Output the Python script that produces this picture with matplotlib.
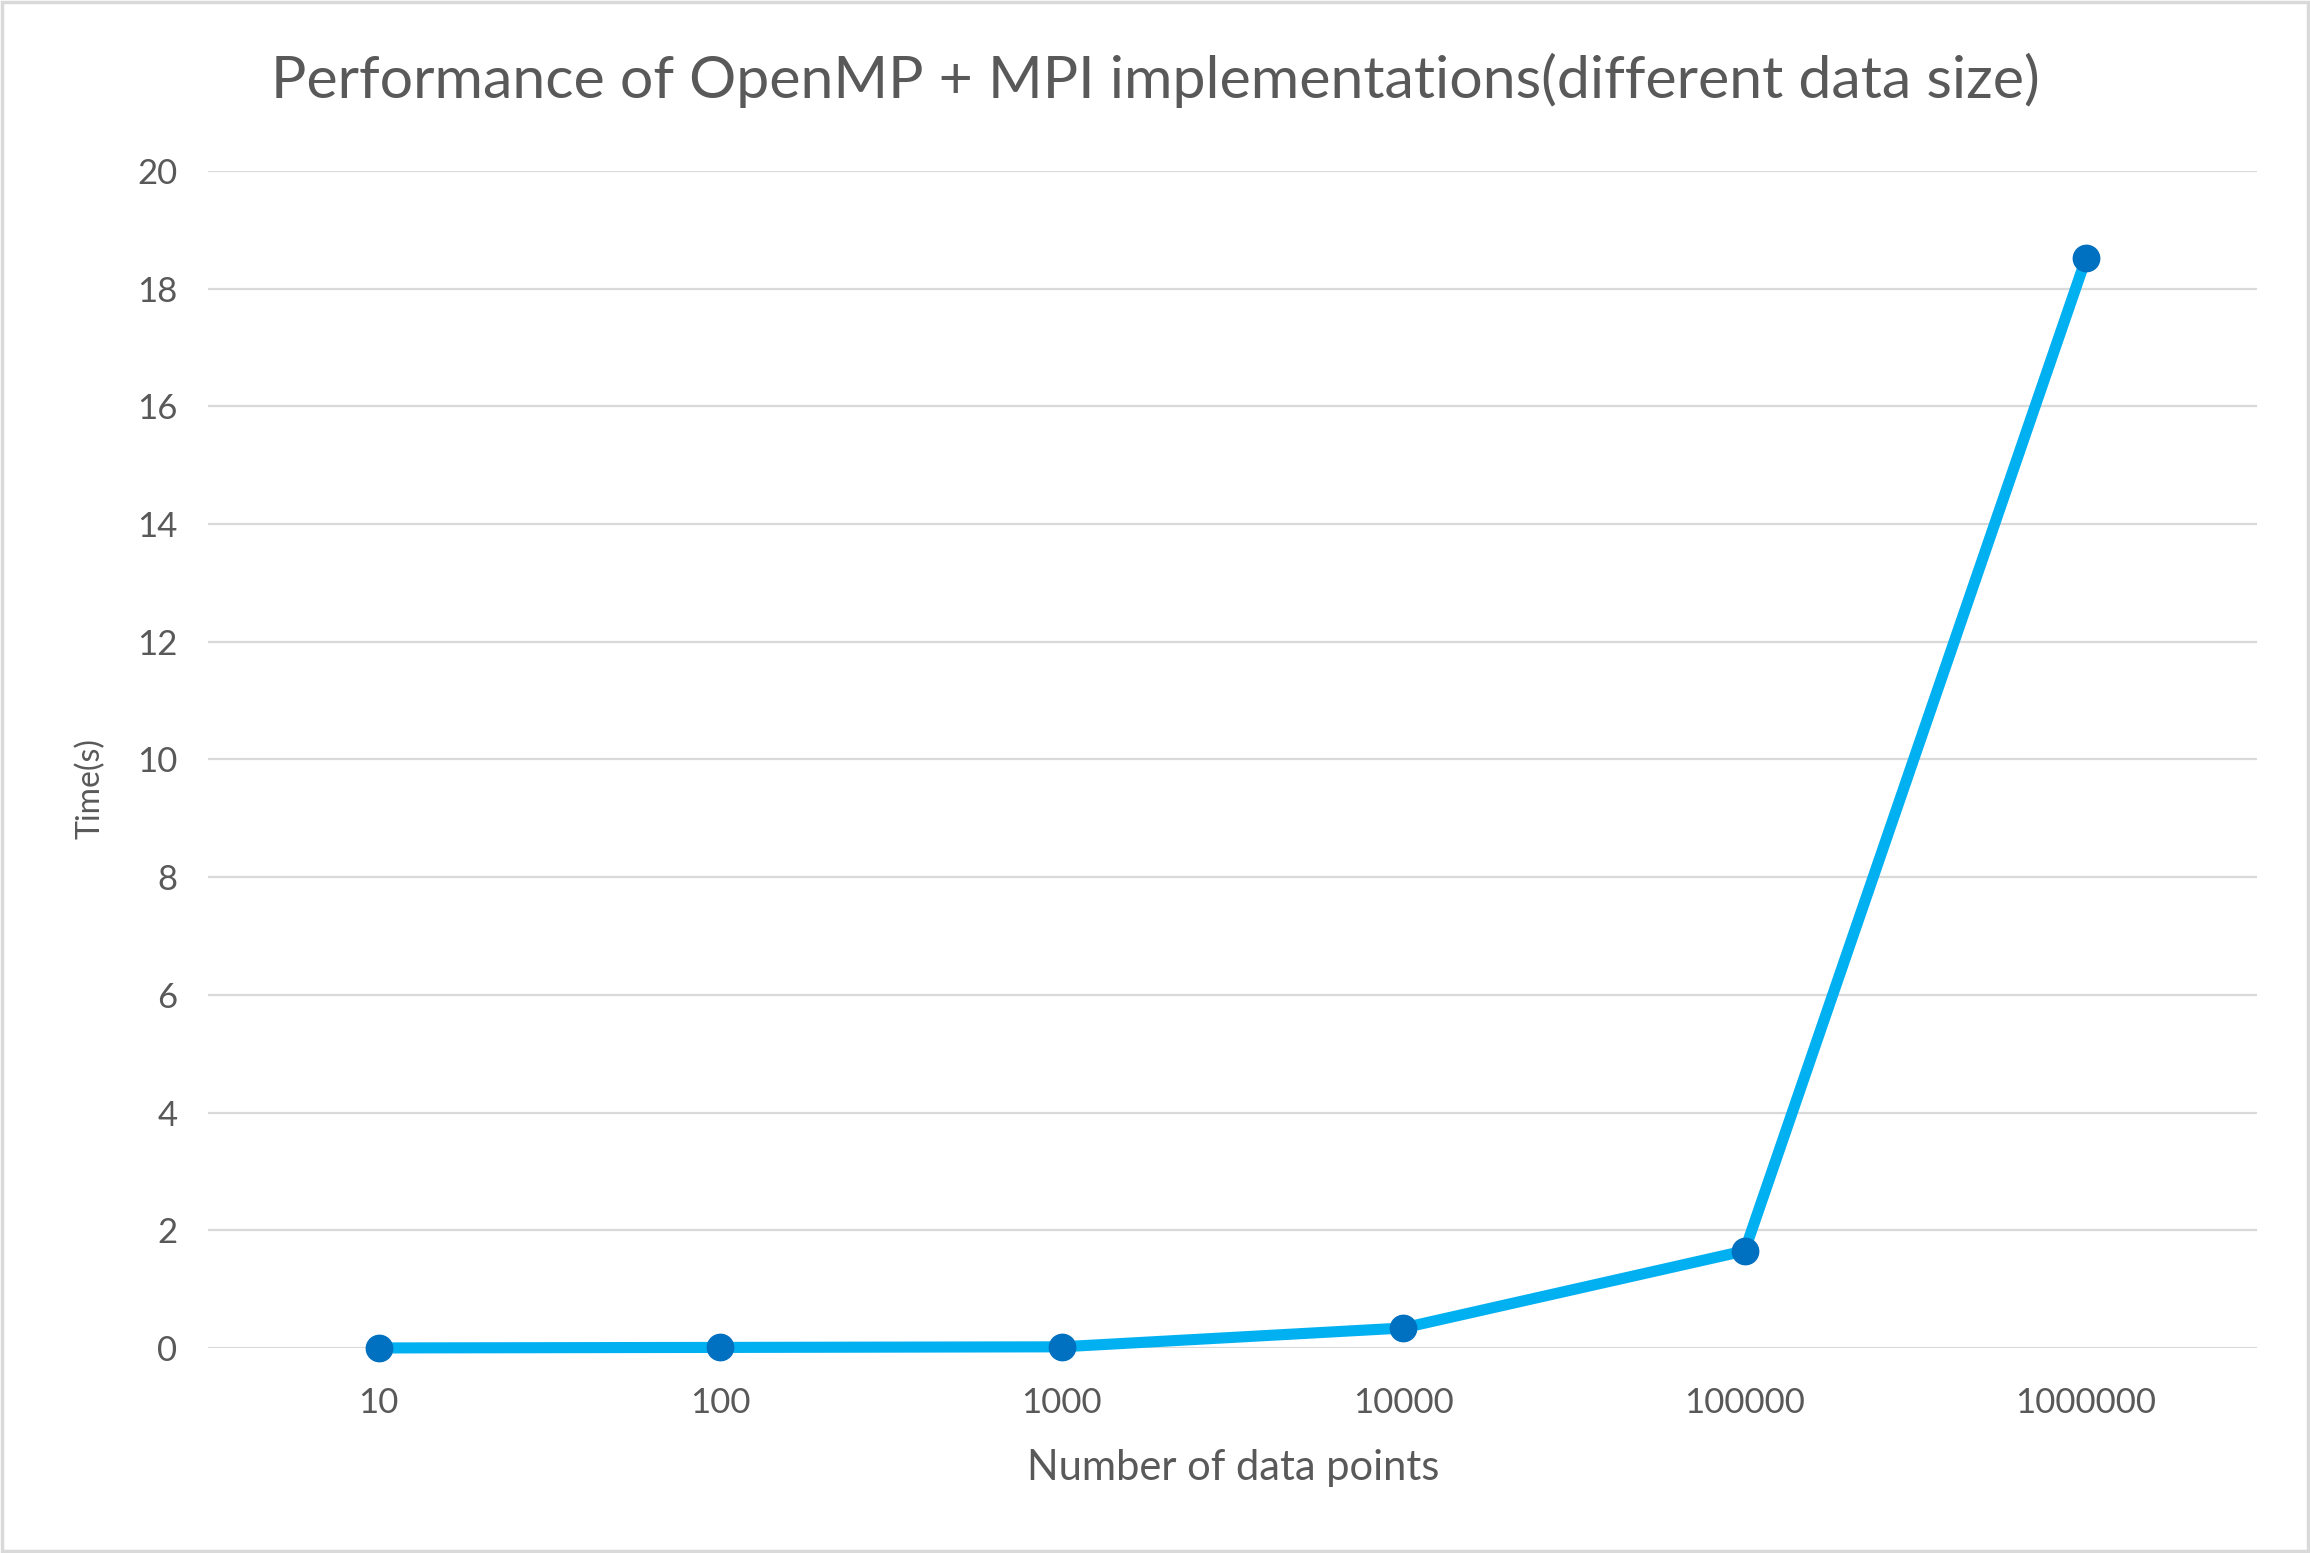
import matplotlib
matplotlib.use("Agg")
import matplotlib.pyplot as plt
from matplotlib.patches import Rectangle

# data
sizes = ["10", "100", "1000", "10000", "100000", "1000000"]
times = [0.001, 0.01, 0.02, 0.34, 1.65, 18.52]
y_ticks = [0, 2, 4, 6, 8, 10, 12, 14, 16, 18, 20]

plt.rcParams["font.family"] = ["Lato", "DejaVu Sans"]
text_col = "#595959"
grid_col = "#D9D9D9"

fig = plt.figure(figsize=(23.1, 15.53), dpi=100)
ax = fig.add_axes([0.090, 0.132, 0.887, 0.758])

x = list(range(len(sizes)))
ax.plot(x, times, color="#00B0F0", linewidth=8, solid_capstyle="round",
        marker="o", markersize=19, markerfacecolor="#0070C0",
        markeredgecolor="#0070C0", zorder=3, clip_on=False)

ax.set_xlim(-0.5, len(sizes) - 0.5)
ax.set_ylim(0, 20)
ax.set_yticks(y_ticks)
ax.set_xticks(x)
ax.set_xticklabels(sizes)

ax.grid(axis="y", color=grid_col, linewidth=1.6)
ax.set_axisbelow(True)
for s in ax.spines.values():
    s.set_visible(False)
ax.tick_params(length=0, labelsize=25, colors=text_col)
ax.tick_params(axis="y", pad=22)
ax.tick_params(axis="x", pad=28)

fig.text(0.5, 0.948, "Performance of OpenMP + MPI implementations(different data size)",
         ha="center", va="center", fontsize=42.5, color=text_col)
fig.text(0.534, 0.055, "Number of data points", ha="center", va="center",
         fontsize=30, color=text_col)
fig.text(0.039, 0.492, "Time(s)", ha="center", va="center", rotation=90,
         fontsize=23, color=text_col)

# thin grey frame around the whole chart
fig.patches.append(Rectangle((0.001, 0.001), 0.998, 0.998, transform=fig.transFigure,
                             fill=False, edgecolor=grid_col, linewidth=2.5))

fig.savefig("out.png", dpi=100, facecolor="white")
